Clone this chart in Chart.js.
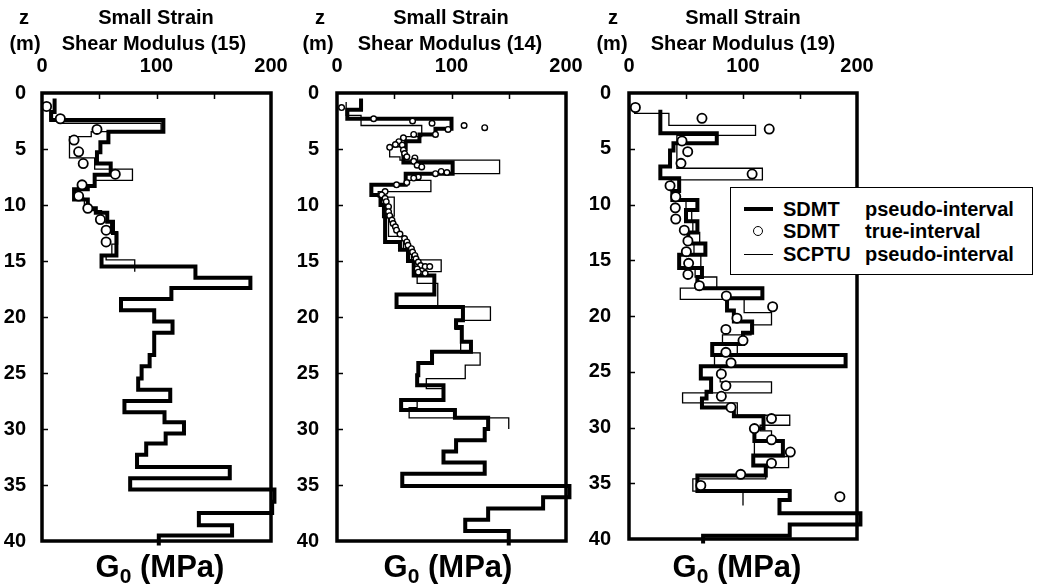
<!DOCTYPE html>
<html>
<head>
<meta charset="utf-8">
<script src="https://cdn.jsdelivr.net/npm/chart.js@4.4.1/dist/chart.umd.min.js"></script>
<style>
html,body{margin:0;padding:0;background:#fff;}
#wrap{position:relative;width:1038px;height:584px;overflow:hidden;font-family:"Liberation Sans",Arial,Helvetica,sans-serif;font-weight:bold;color:#000;}
canvas{position:absolute;left:0;top:0;}
.t{position:absolute;white-space:nowrap;text-align:center;font-size:20px;line-height:24px;width:300px;}
.g{position:absolute;white-space:nowrap;text-align:center;font-size:31px;line-height:34px;width:300px;}
.g span{font-size:21px;position:relative;top:6px;}
#legend{position:absolute;left:730px;top:187px;width:301px;height:86px;border:1.5px solid #000;background:#fff;z-index:5;}
#legend .l{position:absolute;font-size:20px;line-height:24px;white-space:nowrap;}
#legend .ln{position:absolute;left:13px;width:29px;background:#000;}
#legend .ci{position:absolute;left:22px;width:8px;height:8px;border:1.8px solid #000;border-radius:50%;background:#fff;}
</style>
</head>
<body>
<div id="wrap">
  <canvas id="c1" width="1038" height="584"></canvas>
  <canvas id="c2" width="1038" height="584"></canvas>
  <canvas id="c3" width="1038" height="584"></canvas>

  <div class="t" style="left:-126px;top:5px;">z</div>
  <div class="t" style="left:-125px;top:31px;">(m)</div>
  <div class="t" style="left:6px;top:5px;">Small Strain</div>
  <div class="t" style="left:4px;top:31px;">Shear Modulus (15)</div>
  <div class="g" style="left:10px;top:550px;">G<span>0</span> (MPa)</div>

  <div class="t" style="left:170px;top:5px;">z</div>
  <div class="t" style="left:168px;top:31px;">(m)</div>
  <div class="t" style="left:301px;top:5px;">Small Strain</div>
  <div class="t" style="left:300px;top:31px;">Shear Modulus (14)</div>
  <div class="g" style="left:298px;top:550px;">G<span>0</span> (MPa)</div>

  <div class="t" style="left:463px;top:5px;">z</div>
  <div class="t" style="left:462px;top:31px;">(m)</div>
  <div class="t" style="left:593px;top:5px;">Small Strain</div>
  <div class="t" style="left:593px;top:31px;">Shear Modulus (19)</div>
  <div class="g" style="left:587px;top:550px;">G<span>0</span> (MPa)</div>

  <div id="legend">
    <div class="ln" style="top:19px;height:4px;"></div>
    <div class="l" style="left:52px;top:9px;">SDMT</div>
    <div class="l" style="left:134px;top:9px;">pseudo-interval</div>
    <div class="ci" style="top:38px;"></div>
    <div class="l" style="left:52px;top:31px;">SDMT</div>
    <div class="l" style="left:134px;top:31px;">true-interval</div>
    <div class="ln" style="top:66px;height:1.4px;"></div>
    <div class="l" style="left:52px;top:54px;">SCPTU</div>
    <div class="l" style="left:134px;top:54px;">pseudo-interval</div>
  </div>
</div>
<script>
// ---------- tick values ----------
const depthTicks = [0, 5, 10, 15, 20, 25, 30, 35, 40];
const modulusTicks = [0, 50, 100, 150, 200];
const modulusTickLabels = [0, 100, 200];

// ---------- Panel 1 (15) ----------
const p1ThickDepth = [0.5, 1.7, 2.4, 3.45, 4.4, 5.3, 6.3, 7.3, 8.3, 8.6, 9.5, 10.3, 10.7, 11.5, 12.5, 14.5, 15.5, 16.5, 17.4, 18.4, 19.4, 20.4, 21.4, 23.4, 24.4, 25.5, 26.5, 27.5, 28.5, 29.4, 30.4, 31.3, 32.3, 33.4, 34.4, 35.4, 36.5, 37.5, 38.6, 39.5, 40.4];
const p1ThickG = [11, 8, 106, 58, 51, 48, 60, 46, 40, 28, 40, 47, 57, 62, 65, 52, 134, 182, 113, 69, 98, 114, 98, 94, 87, 84, 112, 72, 107, 124, 108, 91, 83, 164, 77, 203, 201, 137, 166, 102];
const p1ThinDepth = [1.0, 2.4, 2.7, 3.45, 3.9, 5.8, 6.8, 7.8, 8.3, 9.4, 10.5, 11.5, 12.5, 13.5, 14.5, 14.9, 15.95];
const p1ThinG = [7, 17, 104, 43, 24, 46, 79, 46, 31, 37, 52, 60, 66, 61, 56, 81];
const p1TrueG = [4, 16, 48, 28, 32, 36, 64, 35, 32, 40, 51, 56, 56];
const p1TrueDepth = [1.2, 2.3, 3.25, 4.2, 5.25, 6.3, 7.25, 8.2, 9.2, 10.3, 11.3, 12.25, 13.3];

// ---------- Panel 2 (14) ----------
const p2ThickDepth = [0.5, 1.5, 2.3, 3.2, 3.7, 4.3, 5.0, 6.2, 7.2, 8.2, 9.1, 10.0, 11.0, 13.3, 14.0, 15.0, 16.3, 18.0, 19.1, 20.3, 20.9, 22.2, 23.1, 24.1, 25.2, 26.1, 27.4, 28.3, 29.0, 30.0, 31.0, 32.0, 33.0, 34.0, 35.1, 36.1, 37.1, 38.1, 39.1, 40.4];
const p2ThickG = [21, 9, 100, 86, 72, 60, 58, 101, 60, 30, 38, 41, 42, 55, 62, 67, 85, 52, 110, 104, 109, 117, 83, 71, 70, 93, 56, 103, 132, 129, 104, 93, 129, 57, 203, 180, 132, 112, 150];
const p2ThinDepth = [0.8, 2.0, 2.9, 3.9, 4.8, 5.7, 6.0, 7.2, 7.8, 8.8, 9.3, 11.0, 12.8, 14.0, 14.9, 15.95, 17.0, 19.1, 20.3, 21.1, 23.2, 24.3, 25.5, 26.4, 27.4, 28.1, 29.0, 30.0];
const p2ThinG = [8, 21, 74, 60, 46, 55, 142, 60, 82, 36, 50, 45, 58, 65, 91, 70, 88, 134, 103, 108, 125, 112, 78, 93, 70, 63, 150];
const p2TrueG = [4, 32, 66, 83, 111, 129, 97, 86, 67, 58, 54, 51, 46, 57, 58, 59, 61, 68, 67, 70, 74, 86, 91, 96, 71, 67, 61, 52, 42, 39, 42, 43, 45, 45, 46, 48, 49, 51, 52, 55, 59, 61, 62, 65, 66, 68, 69, 71, 73, 77, 81, 70, 71, 77];
const p2TrueDepth = [1.3, 2.3, 2.5, 2.7, 2.9, 3.1, 3.25, 3.7, 3.7, 4.0, 4.35, 4.6, 4.85, 4.65, 5.1, 5.4, 5.7, 5.8, 6.1, 6.45, 6.6, 7.2, 7.0, 7.1, 7.5, 7.6, 8.0, 8.2, 8.8, 9.1, 9.4, 9.7, 10.15, 10.6, 10.95, 11.35, 11.65, 11.95, 12.25, 12.6, 13.0, 13.3, 13.6, 13.9, 14.2, 14.5, 14.8, 15.1, 15.4, 15.5, 15.5, 15.7, 16.0, 16.1];

// ---------- Panel 3 (19) ----------
const p3ThickDepth = [1.5, 3.6, 4.5, 5.15, 6.6, 7.65, 8.8, 9.6, 10.5, 11.5, 12.5, 13.5, 14.5, 15.7, 16.5, 17.5, 18.4, 19.5, 20.5, 21.5, 22.5, 23.5, 24.5, 25.6, 26.8, 27.4, 28.2, 29.0, 30.1, 31.2, 32.5, 33.4, 34.3, 35.7, 36.5, 37.7, 38.7, 39.7, 40.4];
const p3ThickG = [27.5, 77, 39, 36, 27.5, 44, 38, 60, 50, 60, 52, 67, 44, 64, 60, 117, 86, 92, 108, 100, 73, 190, 63, 72, 68, 64, 92, 118, 110, 135, 109, 120, 60, 141, 132, 203, 141, 65];
const p3ThinDepth = [1.2, 1.82, 2.9, 3.8, 6.75, 7.8, 8.8, 9.5, 10.5, 11.5, 12.5, 13.5, 14.5, 15.7, 16.5, 17.5, 18.5, 19.7, 20.8, 21.7, 22.6, 23.5, 24.5, 25.9, 26.9, 27.8, 28.9, 29.8, 30.3, 31.3, 32.6, 33.6, 34.6, 35.7, 37.0];
const p3ThinG = [5, 35, 111, 42, 117, 37, 42, 50, 55, 56, 62, 57, 63, 58, 77, 45, 101, 125, 107, 82, 95, 75, 80, 125, 47, 95, 141, 115, 125, 110, 140, 120, 56, 100];
const p3TrueG = [5.6, 64, 123, 46.5, 51.5, 45.6, 108, 36, 41, 40.6, 41, 48.5, 51.7, 50.3, 52.3, 51.7, 61.7, 85.4, 126, 94.7, 85, 100, 85, 89.5, 81, 85, 81, 89.5, 125, 110, 125, 141.5, 125, 98, 63, 185];
const p3TrueDepth = [1.3, 2.27, 3.23, 4.3, 5.26, 6.31, 7.27, 8.31, 9.3, 10.3, 11.3, 12.3, 13.27, 14.23, 15.28, 16.27, 17.28, 18.2, 19.17, 20.2, 21.2, 22.2, 23.26, 24.2, 25.2, 26.25, 27.2, 28.2, 29.2, 30.1, 31.1, 32.2, 33.2, 34.2, 35.2, 36.2];

// ---------- helpers ----------
function stepProfile(depths, values) {
  const out = [];
  for (let i = 0; i < values.length; i++) {
    out.push({x: values[i], y: depths[i]});
    out.push({x: values[i], y: depths[i + 1]});
  }
  return out;
}
function pointList(g, z) { return g.map((v, i) => ({x: v, y: z[i]})); }

const FONT = {family: '"Liberation Sans", Arial, sans-serif', size: 20, weight: 'bold'};

const framePlugin = {
  id: 'frame',
  afterDraw(chart) {
    const {ctx, chartArea: a, scales} = chart;
    ctx.save();
    ctx.strokeStyle = '#000';
    ctx.lineWidth = 1.5;
    ctx.beginPath();
    modulusTicks.forEach(v => {
      if (v === 0 || v === 200) return;
      const px = Math.round(scales.x.getPixelForValue(v)) + 0.5;
      ctx.moveTo(px, a.top); ctx.lineTo(px, a.top + 6);
    });
    depthTicks.forEach(v => {
      if (v === 0 || v === 40) return;
      const py = Math.round(scales.y.getPixelForValue(v)) + 0.5;
      ctx.moveTo(a.left, py); ctx.lineTo(a.left + 6, py);
    });
    ctx.stroke();
    ctx.lineWidth = 3.5;
    ctx.strokeRect(a.left, a.top, a.right - a.left, a.bottom - a.top);
    ctx.restore();
  }
};

function makePanel(id, box, thick, thin, trueInt, radius) {
  const lineClip = {left: 0, top: 0, right: 8, bottom: 6};
  new Chart(document.getElementById(id), {
    type: 'scatter',
    data: {
      datasets: [
        {label: 'SDMT true-interval', data: trueInt, showLine: false,
         pointRadius: radius, pointHoverRadius: radius, pointBackgroundColor: '#fff',
         pointBorderColor: '#000', pointBorderWidth: radius > 3.5 ? 1.8 : 1.4},
        {label: 'SDMT pseudo-interval', data: thick, showLine: true, borderColor: '#000',
         borderWidth: 4, pointRadius: 0, borderJoinStyle: 'miter', borderCapStyle: 'butt', clip: lineClip},
        {label: 'SCPTU pseudo-interval', data: thin, showLine: true, borderColor: '#000',
         borderWidth: 1.3, pointRadius: 0, borderJoinStyle: 'miter', borderCapStyle: 'butt', clip: lineClip}
      ]
    },
    options: {
      responsive: false, animation: false, devicePixelRatio: 1,
      layout: {padding: {left: box.left - 50, right: 1038 - box.right, top: box.top - 48, bottom: 584 - box.bottom}},
      plugins: {legend: {display: false}, tooltip: {enabled: false}, title: {display: false}},
      scales: {
        x: {
          type: 'linear', position: 'top', min: 0, max: 200,
          afterFit: s => { s.height = 48; },
          ticks: {stepSize: 50, autoSkip: false, maxRotation: 0, color: '#000', font: FONT, padding: 15,
                  callback: v => modulusTickLabels.includes(v) ? String(v) : ''},
          grid: {display: false, drawTicks: false}, border: {display: false}
        },
        y: {
          type: 'linear', position: 'left', reverse: true, min: 0, max: 40,
          afterFit: s => { s.width = 50; },
          ticks: {stepSize: 5, autoSkip: false, color: '#000', font: FONT, padding: box.pad},
          grid: {display: false, drawTicks: false}, border: {display: false}
        }
      }
    },
    plugins: [framePlugin]
  });
}

makePanel('c1', {left: 42, right: 271, top: 93, bottom: 541, pad: 16},
  stepProfile(p1ThickDepth, p1ThickG), stepProfile(p1ThinDepth, p1ThinG), pointList(p1TrueG, p1TrueDepth), 4.6);
makePanel('c2', {left: 337, right: 566, top: 93, bottom: 541, pad: 18},
  stepProfile(p2ThickDepth, p2ThickG), stepProfile(p2ThinDepth, p2ThinG), pointList(p2TrueG, p2TrueDepth), 2.8);
makePanel('c3', {left: 629, right: 857, top: 93, bottom: 539, pad: 18},
  stepProfile(p3ThickDepth, p3ThickG), stepProfile(p3ThinDepth, p3ThinG), pointList(p3TrueG, p3TrueDepth), 4.6);
</script>
</body>
</html>
